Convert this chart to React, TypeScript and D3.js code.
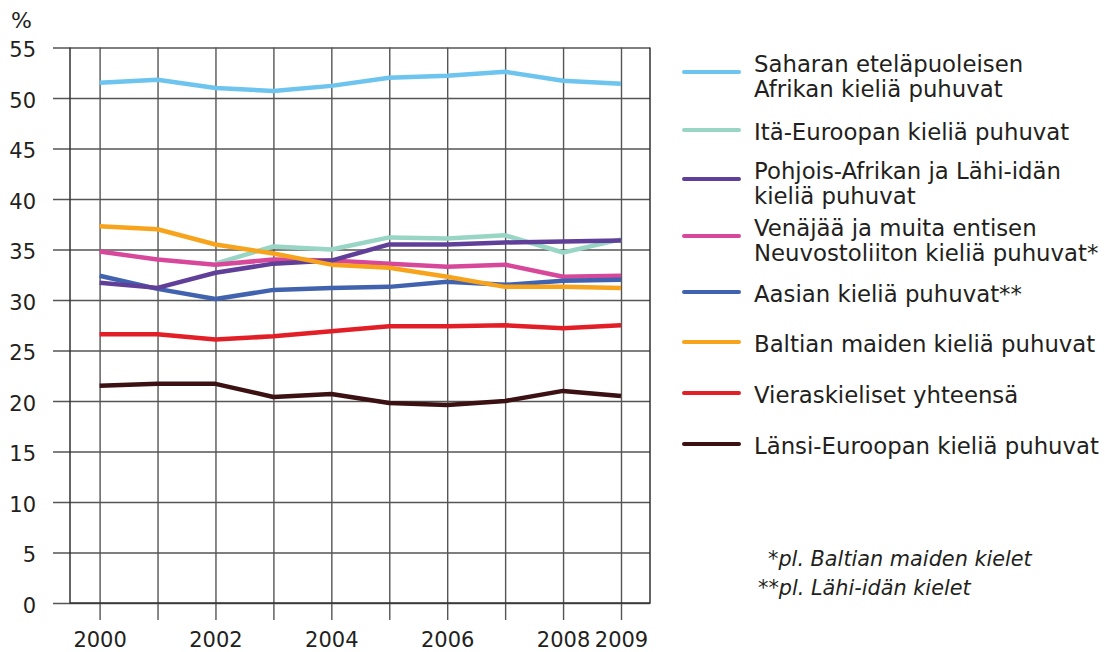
import React, { useEffect, useRef } from "react";
import * as d3 from "d3";

const years = [2000, 2001, 2002, 2003, 2004, 2005, 2006, 2007, 2008, 2009];
const yearLabels = [2000, 2002, 2004, 2006, 2008, 2009];
const yTicks = [0, 5, 10, 15, 20, 25, 30, 35, 40, 45, 50, 55];

const saharanAfrikka = [51.5, 51.8, 51.0, 50.7, 51.2, 52.0, 52.2, 52.6, 51.7, 51.4];
const itaEurooppa = [null, null, 33.6, 35.3, 35.0, 36.2, 36.1, 36.4, 34.7, 36.0];
const pohjoisAfrikka = [31.7, 31.2, 32.7, 33.6, 33.9, 35.5, 35.5, 35.7, 35.8, 35.9];
const venaja = [34.8, 34.0, 33.5, 34.0, 33.9, 33.6, 33.3, 33.5, 32.3, 32.4];
const aasia = [32.4, 31.1, 30.1, 31.0, 31.2, 31.3, 31.8, 31.5, 31.9, 32.0];
const baltia = [37.3, 37.0, 35.5, 34.6, 33.5, 33.2, 32.3, 31.3, 31.3, 31.2];
const vieraskieliset = [26.6, 26.6, 26.1, 26.4, 26.9, 27.4, 27.4, 27.5, 27.2, 27.5];
const lansiEurooppa = [21.5, 21.7, 21.7, 20.4, 20.7, 19.8, 19.6, 20.0, 21.0, 20.5];

// legend order (top to bottom)
const series = [
  { label: ["Saharan eteläpuoleisen", "Afrikan kieliä puhuvat"], values: saharanAfrikka, color: "#6dc5ef" },
  { label: ["Itä-Euroopan kieliä puhuvat"], values: itaEurooppa, color: "#98d5c4" },
  { label: ["Pohjois-Afrikan ja Lähi-idän", "kieliä puhuvat"], values: pohjoisAfrikka, color: "#5f3f98" },
  { label: ["Venäjää ja muita entisen", "Neuvostoliiton kieliä puhuvat*"], values: venaja, color: "#d7489b" },
  { label: ["Aasian kieliä puhuvat**"], values: aasia, color: "#4162ae" },
  { label: ["Baltian maiden kieliä puhuvat"], values: baltia, color: "#f8a31c" },
  { label: ["Vieraskieliset yhteensä"], values: vieraskieliset, color: "#e21f26" },
  { label: ["Länsi-Euroopan kieliä puhuvat"], values: lansiEurooppa, color: "#3b1113" },
];
// draw order, bottom first
const drawOrder = [1, 3, 4, 2, 5, 6, 7, 0];
const legendY = [72, 130, 179, 236, 292, 342, 393, 444];
const footnotes = ["*pl. Baltian maiden kielet", "**pl. Lähi-idän kielet"];

const W = 1105, H = 652;
const textColor = "#231f20";
const font = "'DejaVu Sans', Verdana, sans-serif";

export default function App() {
  const ref = useRef<SVGSVGElement>(null);

  useEffect(() => {
    const svg = d3.select(ref.current);
    svg.selectAll("*").remove();

    const left = 70, right = 650, top = 47.5, bottom = 603;
    const x = d3.scaleLinear().domain([2000, 2009]).range([99.6, 621]);
    const y = d3.scaleLinear().domain([0, 55]).range([bottom, top]);

    // horizontal grid + y labels
    const yAxis = svg.append("g")
      .attr("transform", "translate(53,0)")
      .call(d3.axisLeft(y).tickValues(yTicks).tickSize(-(right - 53)).tickPadding(17));
    yAxis.select(".domain").remove();
    yAxis.selectAll("line").attr("stroke", "#555").attr("stroke-width", 1.4);
    yAxis.selectAll("text")
      .attr("dy", "0.45em")
      .style("font-family", font)
      .style("font-size", "21px")
      .attr("fill", textColor);

    // vertical grid + year labels
    const tickBottom = 620;
    const xAxis = svg.append("g")
      .attr("transform", `translate(0,${tickBottom})`)
      .call(d3.axisBottom(x).tickValues(years).tickSize(-(tickBottom - top)).tickPadding(12)
        .tickFormat(d => (yearLabels.includes(+d) ? String(d) : "")));
    xAxis.select(".domain").remove();
    xAxis.selectAll("line").attr("stroke", "#555").attr("stroke-width", 1.4);
    xAxis.selectAll("text")
      .style("font-family", font)
      .style("font-size", "21px")
      .attr("fill", textColor);

    // frame
    svg.append("path")
      .attr("d", `M${left},${top}V${bottom}H${right}V${top}`)
      .attr("fill", "none")
      .attr("stroke", "#333")
      .attr("stroke-width", 1.5);

    svg.append("text")
      .text("%")
      .attr("x", 11).attr("y", 28)
      .style("font-family", font).style("font-size", "22px")
      .attr("fill", textColor);

    const line = d3.line<number | null>()
      .defined(d => d != null)
      .x((d, i) => x(years[i]))
      .y(d => y(d as number));

    drawOrder.forEach(i => {
      svg.append("path")
        .datum(series[i].values)
        .attr("d", line)
        .attr("fill", "none")
        .attr("stroke", series[i].color)
        .attr("stroke-width", 4.5)
        .attr("stroke-linejoin", "round");
    });

    // legend
    const lg = svg.append("g");
    series.forEach((s, i) => {
      const ly = legendY[i];
      lg.append("line")
        .attr("x1", 684).attr("x2", 739)
        .attr("y1", ly).attr("y2", ly)
        .attr("stroke", s.color)
        .attr("stroke-width", 4)
        .attr("stroke-linecap", "round");
      const base = s.label.length > 1 ? ly : ly + 9.5;
      s.label.forEach((t, j) => {
        lg.append("text")
          .text(t)
          .attr("x", 754)
          .attr("y", base + j * 25)
          .style("font-family", font)
          .style("font-size", "22.8px")
          .attr("fill", textColor);
      });
    });

    footnotes.forEach((t, j) => {
      svg.append("text")
        .text(t)
        .attr("x", j === 0 ? 768 : 758)
        .attr("y", 566 + j * 29)
        .style("font-family", font)
        .style("font-size", "20.8px")
        .style("font-style", "italic")
        .attr("fill", textColor);
    });
  }, []);

  return (
    <svg
      ref={ref}
      width={W}
      height={H}
      style={{ position: "absolute", left: 0, top: 0, background: "#fff" }}
    />
  );
}
